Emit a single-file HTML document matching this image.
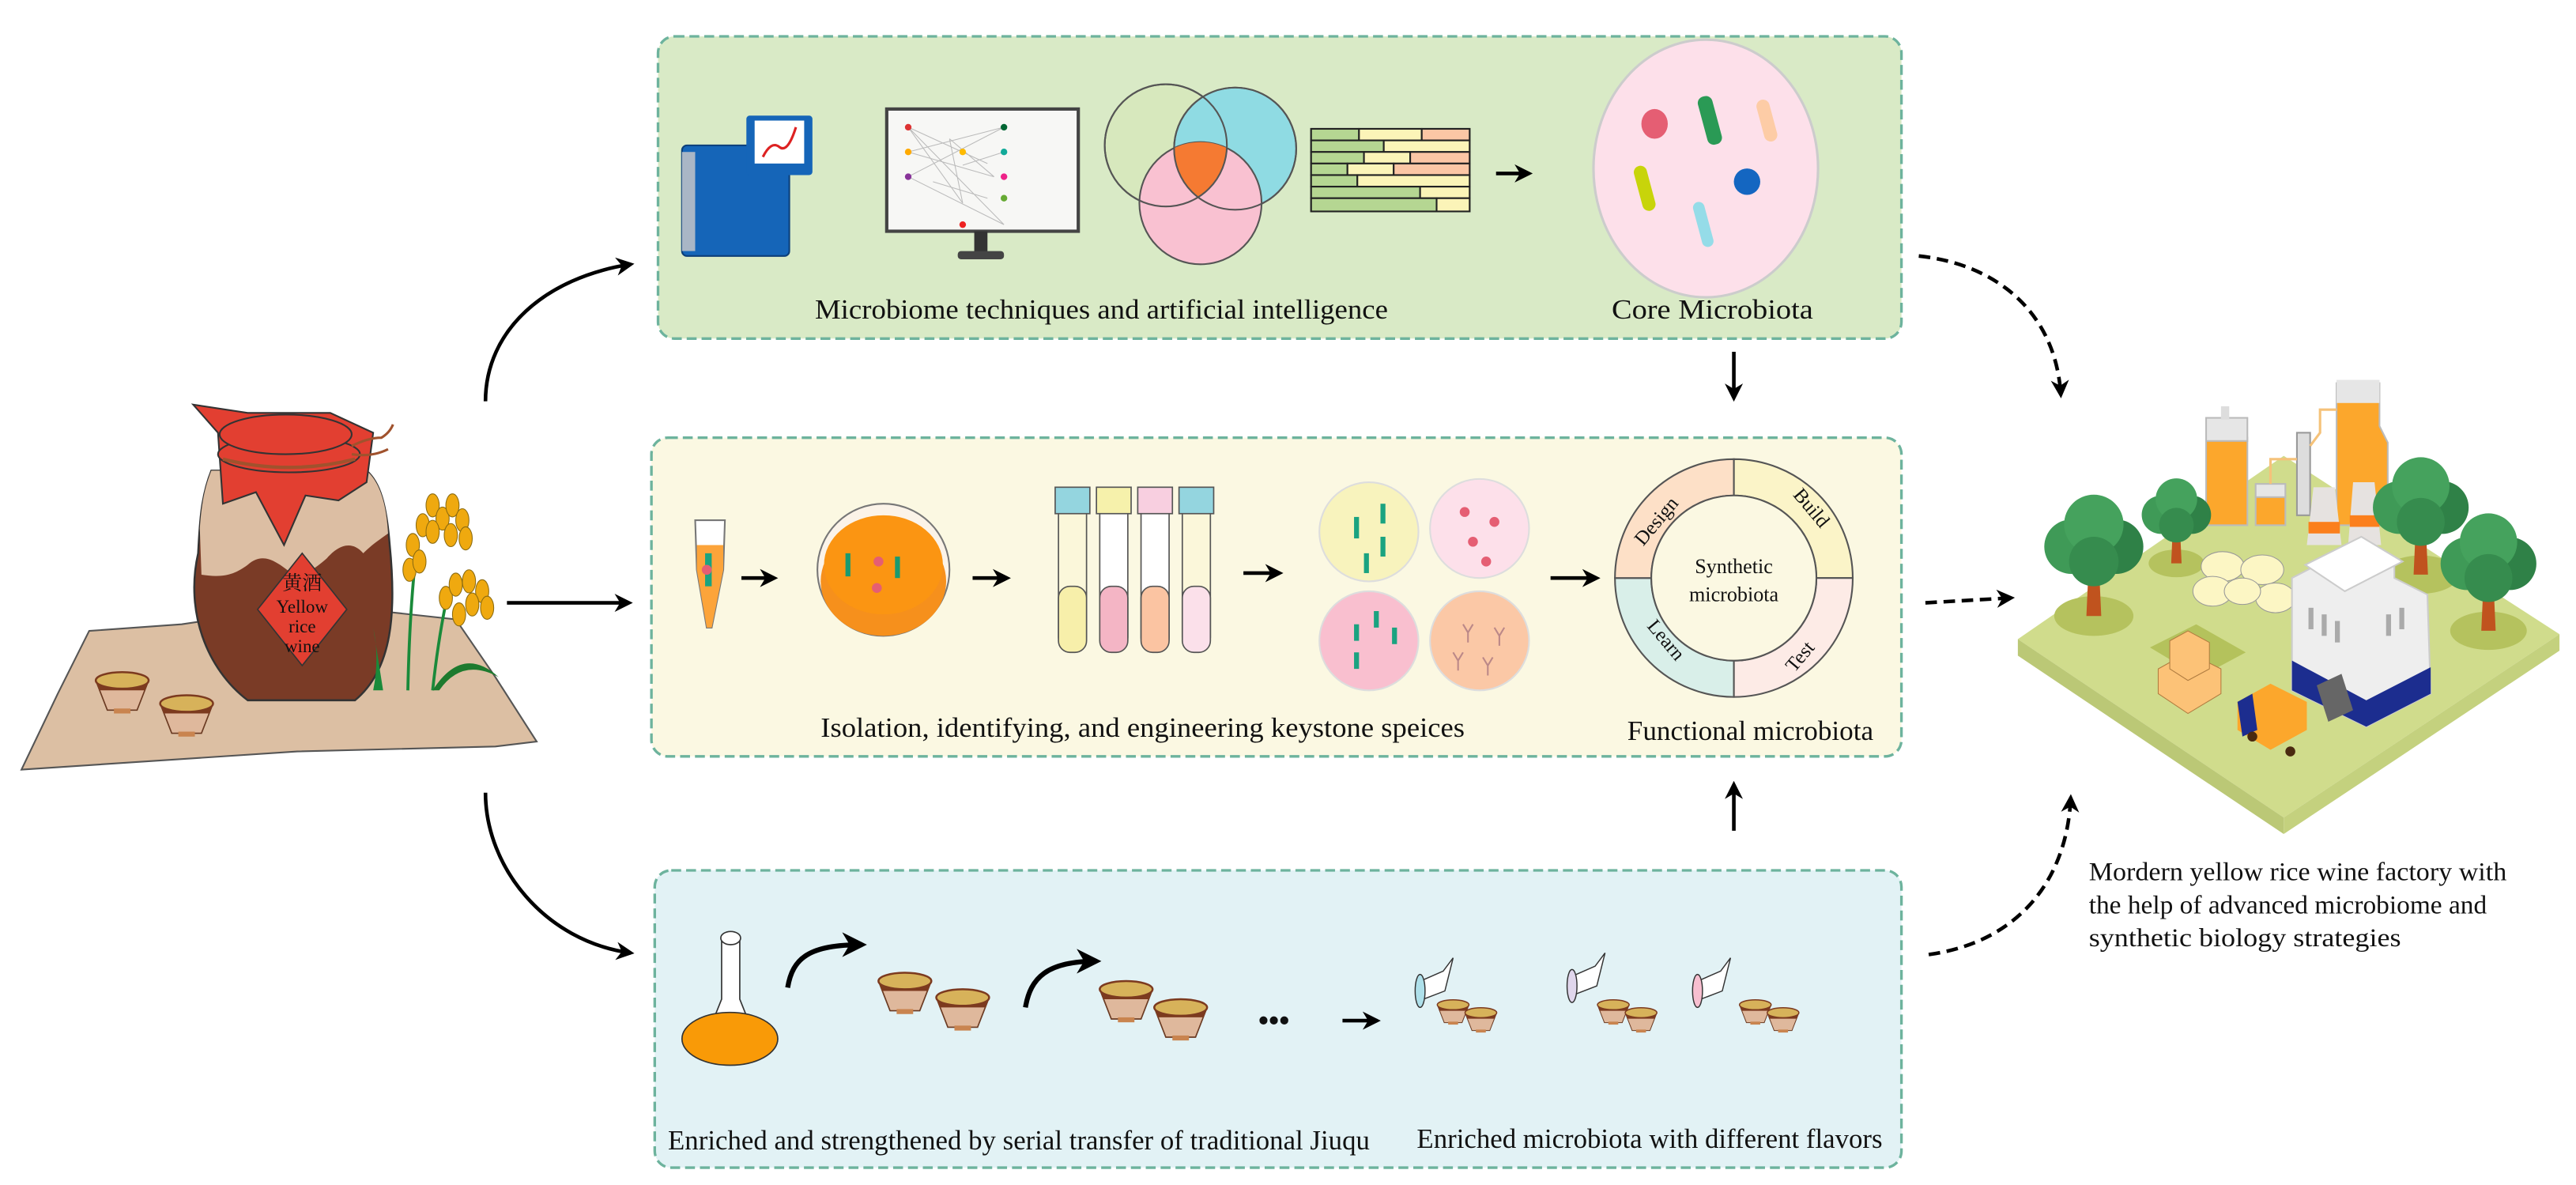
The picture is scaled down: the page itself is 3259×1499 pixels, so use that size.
<!DOCTYPE html>
<html><head><meta charset="utf-8"><style>
html,body{margin:0;padding:0;background:#fff;}
svg{display:block;}
text{font-family:"Liberation Serif","Noto Serif CJK SC",serif;fill:#111;}
</style></head><body>
<svg width="3259" height="1499" viewBox="0 0 1560 717.5" xmlns="http://www.w3.org/2000/svg">
<defs>
<marker id="ah" viewBox="0 0 10 10" refX="8" refY="5" markerWidth="5" markerHeight="5" orient="auto"><path d="M0,0 L10,5 L0,10 L3,5 z" fill="#000"/></marker>
<g id="bowl"><path d="M-16,-6 L16,-6 L9,12 L-9,12 z" fill="#dfb89c" stroke="#6a3a22" stroke-width="0.8"/><path d="M-16,-6 L16,-6 L14,0 L-14,0 z" fill="#7c3a1f"/><ellipse cx="0" cy="-6" rx="16" ry="5" fill="#d7b25a" stroke="#7c3a1f" stroke-width="1.2"/><rect x="-5" y="11" width="10" height="3" fill="#c9844f"/></g>
<g id="tree"><ellipse cx="0" cy="22" rx="16" ry="8" fill="#b5c25e"/><path d="M-2,0 L2,0 L3,22 L-3,22 z" fill="#c0531e"/><circle cx="-9" cy="-6" r="11" fill="#3f9a57"/><circle cx="9" cy="-6" r="11" fill="#2f8147"/><circle cx="0" cy="-15" r="12" fill="#45a25d"/><circle cx="0" cy="0" r="10" fill="#368c4e"/></g>
<clipPath id="c1"><circle cx="706" cy="88" r="37"/></clipPath>
<clipPath id="c2"><circle cx="748" cy="90" r="37"/></clipPath>
</defs>

<!-- boxes -->
<rect x="398.5" y="22" width="753" height="183" rx="10" fill="#d9eac6" stroke="#6db39d" stroke-width="1.6" stroke-dasharray="6,3"/>
<rect x="394.5" y="265" width="757" height="193" rx="10" fill="#fbf8e2" stroke="#6db39d" stroke-width="1.6" stroke-dasharray="6,3"/>
<rect x="396.5" y="527" width="755" height="180" rx="10" fill="#e2f2f5" stroke="#6db39d" stroke-width="1.6" stroke-dasharray="6,3"/>

<!-- arrows -->
<g stroke="#000" stroke-width="2.2" fill="none">
<path d="M294,243 C294,200 330,168 382,160" marker-end="url(#ah)"/>
<path d="M307,365 L381,365" marker-end="url(#ah)"/>
<path d="M294,480 C294,525 330,570 382,577" marker-end="url(#ah)"/>
<path d="M1050,213 L1050,241" marker-end="url(#ah)"/>
<path d="M1050,503 L1050,475" marker-end="url(#ah)"/>
<path d="M1162,155 C1210,160 1245,190 1248,239" stroke-dasharray="7,4" marker-end="url(#ah)"/>
<path d="M1166,365 L1218,362" stroke-dasharray="7,4" marker-end="url(#ah)"/>
<path d="M1168,578 C1225,570 1252,530 1254,483" stroke-dasharray="7,4" marker-end="url(#ah)"/>
<path d="M906,105 L926,105" marker-end="url(#ah)"/>
<path d="M449,350 L469,350" marker-end="url(#ah)"/>
<path d="M589,350 L610,350" marker-end="url(#ah)"/>
<path d="M753,347 L775,347" marker-end="url(#ah)"/>
<path d="M939,350 L967,350" marker-end="url(#ah)"/>
<path d="M813,618 L834,618" marker-end="url(#ah)"/>
<path d="M477,598 C480,580 490,572 522,572" stroke-width="3" marker-end="url(#ah)"/>
<path d="M621,610 C624,592 634,582 664,582" stroke-width="3" marker-end="url(#ah)"/>
</g>
<text x="762" y="624" font-size="18" font-weight="bold">•••</text>

<!-- top box illustrations -->
<rect x="413" y="88" width="65" height="67" rx="3" fill="#1565b8" stroke="#0c3f7a"/>
<rect x="413" y="92" width="8" height="60" fill="#a9b6c6"/>
<rect x="452" y="70" width="40" height="36" rx="2" fill="#1565b8"/>
<rect x="457" y="73" width="30" height="26" fill="#fff"/>
<path d="M462,95 q5,-10 10,-6 t10,-12" stroke="#d22" stroke-width="1.5" fill="none"/>
<rect x="537" y="66" width="116" height="74" fill="#f7f7f5" stroke="#444" stroke-width="2"/>
<g stroke="#bbb" stroke-width="0.5"><path d="M550,77 L608,136 M550,77 L598,99 M550,92 L608,77 M550,92 L602,107 M550,107 L608,77 M550,107 L608,136 M575,84 L602,107 M575,84 L583,123 M583,100 L608,92 M565,110 L598,120 M550,77 L583,123"/></g>
<g><circle cx="550" cy="77" r="2" fill="#d33"/><circle cx="550" cy="92" r="2" fill="#fa0"/><circle cx="550" cy="107" r="2" fill="#839"/><circle cx="608" cy="77" r="2" fill="#063"/><circle cx="608" cy="92" r="2" fill="#1a9"/><circle cx="608" cy="107" r="2" fill="#e28"/><circle cx="608" cy="120" r="2" fill="#6a3"/><circle cx="583" cy="136" r="2" fill="#e22"/><circle cx="583" cy="92" r="2" fill="#fb0"/></g>
<rect x="590" y="140" width="8" height="13" fill="#333"/><rect x="580" y="152" width="28" height="5" rx="2" fill="#444"/>
<circle cx="706" cy="88" r="37" fill="#d7e8bd" stroke="#555"/>
<circle cx="748" cy="90" r="37" fill="#8fdbe3" stroke="#555"/>
<circle cx="727" cy="123" r="37" fill="#f9c1d1" stroke="#555"/>
<path d="M727,123 m-37,0 a37,37 0 1,1 74,0" fill="none"/>
<g clip-path="url(#c1)"><g clip-path="url(#c2)"><circle cx="727" cy="123" r="37" fill="#f57a32"/></g></g>
<circle cx="706" cy="88" r="37" fill="none" stroke="#555"/>
<circle cx="748" cy="90" r="37" fill="none" stroke="#555"/>
<g stroke="#222" stroke-width="1"><rect x="794" y="78" width="96" height="50" fill="#ffd"/>
<rect x="794" y="78" width="29" height="7" fill="#b5d692"/><rect x="823" y="78" width="38" height="7" fill="#fbf4b8"/><rect x="861" y="78" width="29" height="7" fill="#fbc6a5"/>
<rect x="794" y="85" width="44" height="7" fill="#b5d692"/><rect x="838" y="85" width="52" height="7" fill="#fbf4b8"/>
<rect x="794" y="92" width="32" height="7" fill="#b5d692"/><rect x="826" y="92" width="28" height="7" fill="#fbf4b8"/><rect x="854" y="92" width="36" height="7" fill="#fbc6a5"/>
<rect x="794" y="99" width="22" height="7" fill="#b5d692"/><rect x="816" y="99" width="28" height="7" fill="#fbf4b8"/><rect x="844" y="99" width="46" height="7" fill="#fbc6a5"/>
<rect x="794" y="106" width="28" height="7" fill="#b5d692"/><rect x="822" y="106" width="68" height="7" fill="#fbf4b8"/>
<rect x="794" y="113" width="66" height="7" fill="#b5d692"/><rect x="860" y="113" width="30" height="7" fill="#fbf4b8"/>
<rect x="794" y="120" width="76" height="8" fill="#b5d692"/><rect x="870" y="120" width="20" height="8" fill="#fbf4b8"/></g>
<ellipse cx="1033" cy="102" rx="68" ry="78" fill="#fde0ea" stroke="#ccc" stroke-width="1.5"/>
<ellipse cx="1002" cy="75" rx="8" ry="9" fill="#e55e73"/>
<rect x="1031" y="58" width="9" height="30" rx="4" fill="#2a9a55" transform="rotate(-15 1035 73)"/>
<rect x="1066" y="60" width="8" height="26" rx="4" fill="#fdcca6" transform="rotate(-15 1070 73)"/>
<rect x="992" y="100" width="8" height="28" rx="4" fill="#c8d40a" transform="rotate(-15 996 114)"/>
<ellipse cx="1058" cy="110" rx="8" ry="8" fill="#1466c1"/>
<rect x="1028" y="122" width="7" height="28" rx="3.5" fill="#95dce8" transform="rotate(-15 1031 136)"/>
<text x="667" y="193" font-size="16.5" text-anchor="middle" textLength="347" lengthAdjust="spacingAndGlyphs">Microbiome techniques and artificial intelligence</text>
<text x="1037" y="193" font-size="16.5" text-anchor="middle" textLength="122" lengthAdjust="spacingAndGlyphs">Core Microbiota</text>

<!-- middle box -->
<path d="M421,315 L439,315 L438,345 L431,380 L428,380 L422,345 z" fill="#fff" stroke="#777"/>
<path d="M422,330 L438,330 L438,345 L431,380 L428,380 L422,345 z" fill="#fca43a"/>
<rect x="427" y="335" width="4" height="20" fill="#1aa380"/><circle cx="428" cy="345" r="3" fill="#e55e73"/>
<ellipse cx="535" cy="345" rx="40" ry="40" fill="#fbf3e8" stroke="#777"/>
<ellipse cx="535" cy="352" rx="38" ry="33" fill="#f6901c"/>
<ellipse cx="535" cy="342" rx="36" ry="30" fill="#fb9512"/>
<rect x="512" y="335" width="3" height="14" fill="#1a9a70"/><rect x="542" y="337" width="3" height="13" fill="#1a9a70"/><circle cx="532" cy="340" r="3" fill="#e55e73"/><circle cx="531" cy="356" r="3" fill="#e55e73"/>
<g stroke="#555" stroke-width="0.8">
<rect x="641" y="303" width="17" height="90" rx="7" fill="#fbf7da"/><rect x="641" y="355" width="17" height="40" rx="7" fill="#f7efaa"/><rect x="639" y="295" width="21" height="16" fill="#94d5df"/>
<rect x="666" y="303" width="17" height="90" rx="7" fill="#fff"/><rect x="666" y="355" width="17" height="40" rx="7" fill="#f4b5c5"/><rect x="664" y="295" width="21" height="16" fill="#f6f1ab"/>
<rect x="691" y="303" width="17" height="90" rx="7" fill="#fff"/><rect x="691" y="355" width="17" height="40" rx="7" fill="#fbc4a2"/><rect x="689" y="295" width="21" height="16" fill="#f8cfe0"/>
<rect x="716" y="303" width="17" height="90" rx="7" fill="#fbf7da"/><rect x="716" y="355" width="17" height="40" rx="7" fill="#fbe0ea"/><rect x="714" y="295" width="21" height="16" fill="#94d5df"/>
</g>
<circle cx="829" cy="322" r="30" fill="#f8f3bd" stroke="#ddd"/>
<circle cx="896" cy="320" r="30" fill="#fde0ea" stroke="#ddd"/>
<circle cx="829" cy="388" r="30" fill="#f9bfcf" stroke="#ddd"/>
<circle cx="896" cy="388" r="30" fill="#fbc8a6" stroke="#ddd"/>
<g fill="#1aa380"><rect x="820" y="313" width="3" height="13"/><rect x="836" y="305" width="3" height="12"/><rect x="836" y="325" width="3" height="12"/><rect x="826" y="335" width="3" height="12"/><rect x="820" y="378" width="3" height="10"/><rect x="843" y="380" width="3" height="10"/><rect x="832" y="370" width="3" height="10"/><rect x="820" y="395" width="3" height="10"/></g>
<g fill="#e55e73"><circle cx="887" cy="310" r="3"/><circle cx="905" cy="316" r="3"/><circle cx="892" cy="328" r="3"/><circle cx="900" cy="340" r="3"/></g>
<g stroke="#b88" fill="none" stroke-width="1"><path d="M886,378 l3,5 l3,-5 m-3,5 v6"/><path d="M905,380 l3,5 l3,-5 m-3,5 v6"/><path d="M880,395 l3,5 l3,-5 m-3,5 v6"/><path d="M898,398 l3,5 l3,-5 m-3,5 v6"/></g>
<path d="M1050,278 A72,72 0 0 1 1122,350 L1100,350 A50,50 0 0 0 1050,300 z" fill="#fbf4c8" stroke="#555"/>
<path d="M1122,350 A72,72 0 0 1 1050,422 L1050,400 A50,50 0 0 0 1100,350 z" fill="#fdebe6" stroke="#555"/>
<path d="M1050,422 A72,72 0 0 1 978,350 L1000,350 A50,50 0 0 0 1050,400 z" fill="#d9efe9" stroke="#555"/>
<path d="M978,350 A72,72 0 0 1 1050,278 L1050,300 A50,50 0 0 0 1000,350 z" fill="#fde0c7" stroke="#555"/>
<circle cx="1050" cy="350" r="50" fill="#fbf8e2" stroke="#555"/>
<text x="1050" y="347" font-size="12.5" text-anchor="middle">Synthetic</text>
<text x="1050" y="364" font-size="12.5" text-anchor="middle">microbiota</text>
<text x="1006" y="318" font-size="12" transform="rotate(-50 1006 318)" text-anchor="middle">Design</text>
<text x="1094" y="310" font-size="12" transform="rotate(50 1094 310)" text-anchor="middle">Build</text>
<text x="1006" y="390" font-size="12" transform="rotate(50 1006 390)" text-anchor="middle">Learn</text>
<text x="1093" y="400" font-size="12" transform="rotate(-50 1093 400)" text-anchor="middle">Test</text>
<text x="692" y="446" font-size="16.5" text-anchor="middle" textLength="390" lengthAdjust="spacingAndGlyphs">Isolation, identifying, and engineering keystone speices</text>
<text x="1060" y="448" font-size="16.5" text-anchor="middle" textLength="149" lengthAdjust="spacingAndGlyphs">Functional microbiota</text>

<!-- bottom box -->
<path d="M437,570 L448,570 L448,605 L462,640 L423,640 L437,605 z" fill="#fff" stroke="#333" stroke-width="0.8"/>
<ellipse cx="442.5" cy="568" rx="6" ry="4" fill="#fff" stroke="#333" stroke-width="0.8"/>
<ellipse cx="442" cy="629" rx="29" ry="16" fill="#f99a07" stroke="#333" stroke-width="0.8"/>
<use href="#bowl" x="548" y="600"/><use href="#bowl" x="583" y="610"/>
<use href="#bowl" x="682" y="605"/><use href="#bowl" x="715" y="616"/>
<g stroke="#333" stroke-width="0.7"><path d="M858,595 L874,588 L880,580 L875,600 L862,605 z" fill="#fff"/><ellipse cx="860" cy="600" rx="3" ry="10" fill="#aee0ea"/>
<path d="M950,592 L966,585 L972,577 L967,597 L954,602 z" fill="#fff"/><ellipse cx="952" cy="597" rx="3" ry="10" fill="#e0d6ec"/>
<path d="M1026,595 L1042,588 L1048,580 L1043,600 L1030,605 z" fill="#fff"/><ellipse cx="1028" cy="600" rx="3" ry="10" fill="#f8bfd0"/></g>
<g transform="translate(880,612) scale(0.6)"><use href="#bowl"/><use href="#bowl" x="28" y="8"/></g>
<g transform="translate(977,612) scale(0.6)"><use href="#bowl"/><use href="#bowl" x="28" y="8"/></g>
<g transform="translate(1063,612) scale(0.6)"><use href="#bowl"/><use href="#bowl" x="28" y="8"/></g>
<text x="617" y="696" font-size="16.5" text-anchor="middle" textLength="425" lengthAdjust="spacingAndGlyphs">Enriched and strengthened by serial transfer of traditional Jiuqu</text>
<text x="999" y="695" font-size="16.5" text-anchor="middle" textLength="282" lengthAdjust="spacingAndGlyphs">Enriched microbiota with different flavors</text>

<!-- left jar -->
<path d="M54,382 L110,378 L150,372 L230,370 L276,375 L300,410 L325,449 L300,452 L180,455 L13,466 L35,420 Z" fill="#dcbfa3" stroke="#555" stroke-width="1"/>
<path d="M120,335 C112,370 125,405 150,424 L215,424 C238,405 240,370 236,330 C234,305 230,292 222,285 L128,285 C122,300 121,315 120,335 z" fill="#7a3b26" stroke="#333" stroke-width="1.2"/>
<path d="M121,320 C122,305 124,295 128,285 L222,285 C230,292 234,305 235,323 C228,328 225,330 220,335 C213,327 205,330 198,338 C190,345 183,350 175,346 C165,338 158,335 150,342 C142,348 135,350 122,348 z" fill="#dcbea3"/>
<path d="M117,245 L132,262 L135,305 L155,298 L172,330 L185,300 L205,303 L222,292 L226,262 L200,250 L150,250 Z" fill="#e23f31" stroke="#333" stroke-width="1"/>
<ellipse cx="175" cy="275" rx="43" ry="11" fill="#e23f31" stroke="#333"/>
<ellipse cx="173" cy="263" rx="40" ry="12" fill="#e23f31" stroke="#333"/>
<path d="M135,278 Q175,288 215,278" stroke="#a0522d" stroke-width="2" fill="none"/>
<path d="M213,270 q10,-5 18,-5 q5,-3 7,-8 M213,275 q12,2 22,-3" stroke="#a0522d" stroke-width="1.5" fill="none"/>
<path d="M183,335 L210,369 L183,403 L156,369 Z" fill="#e23f31" stroke="#333" stroke-width="0.8"/>
<text x="183" y="357" font-size="12" text-anchor="middle" style="font-family:'Noto Serif CJK SC','Noto Sans CJK SC',serif">黄酒</text>
<text x="183" y="371" font-size="11" text-anchor="middle">Yellow</text>
<text x="183" y="383" font-size="11" text-anchor="middle">rice</text>
<text x="183" y="395" font-size="11" text-anchor="middle">wine</text>
<path d="M226,418 Q230,398 226,380 L232,418 z" fill="#1a8a3a"/>
<path d="M247,418 Q248,370 252,335 M262,418 Q265,390 270,365" stroke="#1a8a3a" stroke-width="1.8" fill="none"/>
<path d="M262,418 Q280,390 302,410 Q280,398 266,418 z" fill="#1d7a2e"/>
<g fill="#efa90f" stroke="#8a6a10" stroke-width="0.5"><ellipse cx="250" cy="330" rx="4" ry="7"/><ellipse cx="256" cy="318" rx="4" ry="7"/><ellipse cx="262" cy="306" rx="4" ry="7"/><ellipse cx="268" cy="314" rx="4" ry="7"/><ellipse cx="274" cy="306" rx="4" ry="7"/><ellipse cx="280" cy="315" rx="4" ry="7"/><ellipse cx="273" cy="324" rx="4" ry="7"/><ellipse cx="262" cy="322" rx="4" ry="7"/><ellipse cx="282" cy="326" rx="4" ry="7"/><ellipse cx="248" cy="345" rx="4" ry="7"/><ellipse cx="254" cy="340" rx="4" ry="7"/>
<ellipse cx="270" cy="362" rx="4" ry="7"/><ellipse cx="276" cy="354" rx="4" ry="7"/><ellipse cx="284" cy="352" rx="4" ry="7"/><ellipse cx="292" cy="358" rx="4" ry="7"/><ellipse cx="295" cy="368" rx="4" ry="7"/><ellipse cx="286" cy="366" rx="4" ry="7"/><ellipse cx="278" cy="372" rx="4" ry="7"/></g>
<use href="#bowl" x="74" y="418"/><use href="#bowl" x="113" y="432"/>

<!-- factory -->
<path d="M1222,387 L1383,276 L1550,384 L1383,495 Z" fill="#d0dc8c"/>
<path d="M1222,387 L1383,495 L1383,505 L1222,397 Z" fill="#bbc876"/>
<path d="M1383,495 L1550,384 L1550,394 L1383,505 Z" fill="#c4d17e"/>
<path d="M1302,392 L1330,378 L1360,395 L1332,410 z" fill="#b4c25c"/>
<rect x="1336" y="265" width="25" height="53" fill="#fca72c" stroke="#bbb"/>
<rect x="1336" y="253" width="25" height="14" fill="#e6e6e6" stroke="#bbb"/>
<rect x="1345" y="246" width="5" height="8" fill="#ddd"/>
<rect x="1366" y="300" width="18" height="18" fill="#fca72c" stroke="#bbb"/>
<rect x="1366" y="293" width="18" height="8" fill="#e6e6e6" stroke="#bbb"/>
<rect x="1391" y="262" width="8" height="50" fill="#ddd" stroke="#999"/>
<path d="M1415,232 L1441,232 L1441,258 L1446,268 L1446,318 L1415,318 z" fill="#fca72c" stroke="#bbb"/>
<rect x="1415" y="230" width="26" height="14" fill="#e6e6e6"/>
<path d="M1375,293 L1375,278 L1391,278 M1399,270 L1405,262 L1405,248 L1415,248" stroke="#f5c27a" stroke-width="1.5" fill="none"/>
<path d="M1397,330 L1401,295 L1414,295 L1418,330 z" fill="#e6e2e0"/><rect x="1398" y="316" width="19" height="7" fill="#fb7f1c"/>
<path d="M1422,330 L1425,292 L1438,292 L1442,330 z" fill="#e6e2e0"/><rect x="1423" y="312" width="18" height="7" fill="#fb7f1c"/>
<g transform="translate(1268,340) scale(1.5)"><use href="#tree"/></g>
<g transform="translate(1318,318) scale(1.05)"><use href="#tree"/></g>
<g transform="translate(1466,316) scale(1.45)"><use href="#tree"/></g>
<g transform="translate(1507,350) scale(1.45)"><use href="#tree"/></g>
<g fill="#fcf6c4" stroke="#999" stroke-width="0.5"><ellipse cx="1346" cy="343" rx="13" ry="9"/><ellipse cx="1370" cy="345" rx="13" ry="9"/><ellipse cx="1340" cy="358" rx="12" ry="9"/><ellipse cx="1378" cy="362" rx="12" ry="9"/><ellipse cx="1358" cy="358" rx="11" ry="8"/></g>
<g fill="#fcc277" stroke="#b07c40" stroke-width="0.5"><path d="M1307,405 L1325,395 L1345,405 L1345,420 L1325,432 L1307,420 z"/><path d="M1314,388 L1325,382 L1338,389 L1338,405 L1325,412 L1314,405 z"/></g>
<path d="M1388,350 L1430,328 L1450,340 L1450,350 L1470,360 L1472,420 L1433,440 L1388,418 z" fill="#eeeeee" stroke="#ccc"/>
<path d="M1388,400 L1433,424 L1472,404 L1472,420 L1433,440 L1388,418 z" fill="#1c2d8f"/>
<path d="M1396,342 L1430,325 L1455,340 L1420,358 z" fill="#fff" stroke="#ccc"/>
<g fill="#aaa"><rect x="1398" y="368" width="3" height="13"/><rect x="1406" y="372" width="3" height="13"/><rect x="1414" y="376" width="3" height="13"/><rect x="1445" y="372" width="3" height="13"/><rect x="1453" y="368" width="3" height="13"/></g>
<path d="M1403,415 L1418,408 L1425,430 L1410,437 z" fill="#666"/>
<path d="M1355,425 L1375,414 L1397,425 L1397,442 L1375,454 L1355,442 z" fill="#fca72c"/>
<path d="M1355,425 L1364,420 L1367,442 L1358,446 z" fill="#1c2d8f"/>
<circle cx="1364" cy="446" r="3" fill="#4a2a10"/><circle cx="1387" cy="455" r="3" fill="#4a2a10"/>
<text x="1265" y="533" font-size="15.5" textLength="253" lengthAdjust="spacingAndGlyphs">Mordern yellow rice wine factory with</text>
<text x="1265" y="553" font-size="15.5" textLength="241" lengthAdjust="spacingAndGlyphs">the help of advanced microbiome and</text>
<text x="1265" y="573" font-size="15.5" textLength="189" lengthAdjust="spacingAndGlyphs">synthetic biology strategies</text>
</svg>
</body></html>
